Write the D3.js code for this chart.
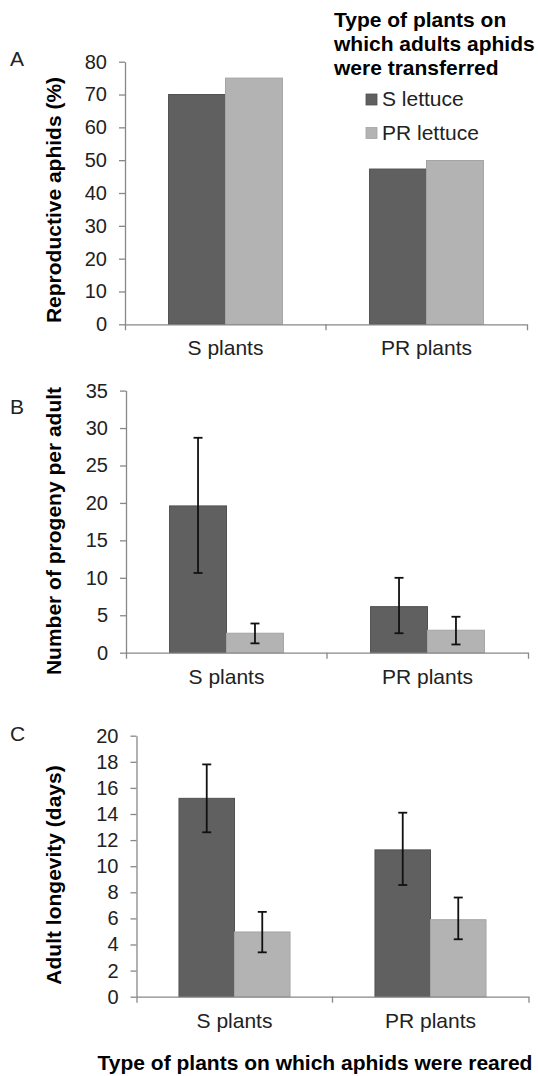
<!DOCTYPE html>
<html>
<head>
<meta charset="utf-8">
<script src="https://cdn.jsdelivr.net/npm/d3@7"></script>
<style>
  html, body { margin: 0; padding: 0; background: #fff; }
  svg { display: block; font-family: "Liberation Sans", Arial, sans-serif; }
</style>
</head>
<body>
<svg id="chart" width="538" height="1076"></svg>
<script>
// ---- data ----
const categories = ["S plants", "PR plants"];
const series = ["S lettuce", "PR lettuce"];

// Panel A: reproductive aphids (%)
const reproS = [70, 47.3];
const reproPR = [75, 49.9];
const reproTicks = [0, 10, 20, 30, 40, 50, 60, 70, 80];

// Panel B: number of progeny per adult
const progenyS = [19.6, 6.15];
const progenyPR = [2.6, 3.0];
const progenyLowS = [10.65, 2.6];
const progenyHighS = [28.7, 10.0];
const progenyLowPR = [1.25, 1.1];
const progenyHighPR = [3.9, 4.8];
const progenyTicks = [0, 5, 10, 15, 20, 25, 30, 35];

// Panel C: adult longevity (days)
const longS = [15.2, 11.25];
const longPR = [4.96, 5.9];
const longLowS = [12.6, 8.56];
const longHighS = [17.8, 14.1];
const longLowPR = [3.4, 4.4];
const longHighPR = [6.5, 7.6];
const longTicks = [0, 2, 4, 6, 8, 10, 12, 14, 16, 18, 20];

const colors = ["#606060", "#b3b3b3"];
const strokes = ["#505050", "#a4a4a4"];
const axisColor = "#888888";
const textColor = "#222222";

const svg = d3.select("#chart");

function panel(opts) {
  const g = svg.append("g");
  const x0 = d3.scaleBand().domain(categories).range([opts.x0, opts.x1]).padding(0);
  const x1 = d3.scaleBand().domain(series).range([0, x0.bandwidth()]).paddingOuter(0.765).paddingInner(0);
  const y = d3.scaleLinear().domain([0, opts.max]).range([opts.yb, opts.yt]);

  // y axis
  const ya = g.append("g").attr("transform", `translate(${opts.x0},0)`)
    .call(d3.axisLeft(y).tickValues(opts.ticks).tickSize(6).tickSizeOuter(0).tickPadding(12));
  ya.select(".domain").attr("stroke", axisColor).attr("stroke-width", 1.3);
  ya.selectAll(".tick line").attr("stroke", axisColor).attr("stroke-width", 1.3);
  ya.selectAll(".tick text").attr("fill", textColor).style("font-size", "20px")
    .style("font-family", '"Liberation Sans", Arial, sans-serif');

  // bars
  const rows = categories.map((c, i) => ({
    cat: c,
    vals: opts.vals.map((arr, s) => ({
      s: series[s], si: s, v: arr[i],
      lo: opts.lo ? opts.lo[s][i] : null,
      hi: opts.hi ? opts.hi[s][i] : null
    }))
  }));
  const grp = g.selectAll("g.cat").data(rows).join("g").attr("class", "cat")
    .attr("transform", d => `translate(${x0(d.cat)},0)`);
  grp.selectAll("rect").data(d => d.vals).join("rect")
    .attr("x", d => x1(d.s))
    .attr("width", x1.bandwidth())
    .attr("y", d => y(d.v))
    .attr("height", d => y(0) - y(d.v))
    .attr("fill", d => colors[d.si])
    .attr("stroke", d => strokes[d.si])
    .attr("stroke-width", 1);

  // error bars
  if (opts.lo) {
    const eb = grp.selectAll("g.err").data(d => d.vals).join("g").attr("class", "err")
      .attr("transform", d => `translate(${x1(d.s) + x1.bandwidth() / 2},0)`);
    eb.append("line").attr("x1", 0).attr("x2", 0)
      .attr("y1", d => y(d.lo)).attr("y2", d => y(d.hi))
      .attr("stroke", "#111").attr("stroke-width", 1.8);
    [d => y(d.lo), d => y(d.hi)].forEach(fy => {
      eb.append("line").attr("x1", -4.5).attr("x2", 4.5)
        .attr("y1", fy).attr("y2", fy)
        .attr("stroke", "#111").attr("stroke-width", 1.8);
    });
  }

  // x axis
  const xa = g.append("g").attr("transform", `translate(0,${opts.yb})`)
    .call(d3.axisBottom(x0).tickSize(0).tickSizeOuter(6).tickPadding(16));
  xa.select(".domain").attr("stroke", axisColor).attr("stroke-width", 1.3);
  xa.selectAll(".tick text").attr("fill", textColor).style("font-size", "21px")
    .style("font-family", '"Liberation Sans", Arial, sans-serif');
  // middle boundary tick
  xa.append("line")
    .attr("x1", x0(categories[1])).attr("x2", x0(categories[1]))
    .attr("y1", 0).attr("y2", 6)
    .attr("stroke", axisColor).attr("stroke-width", 1.3);

  // y-axis title
  g.append("text")
    .attr("transform", `translate(61,${opts.labelY}) rotate(-90)`)
    .attr("text-anchor", "middle")
    .attr("fill", "#000")
    .style("font-size", "21px").style("font-weight", "bold")
    .text(opts.label);

  // panel letter
  g.append("text").attr("x", 10).attr("y", opts.letterY)
    .attr("fill", textColor).style("font-size", "21px").text(opts.letter);
}

panel({
  x0: 125, x1: 527, yb: 324.3, yt: 61.7, max: 80, ticks: reproTicks,
  vals: [reproS, reproPR], label: "Reproductive aphids (%)", labelY: 200,
  letter: "A", letterY: 66
});
panel({
  x0: 126, x1: 528, yb: 652.7, yt: 390.6, max: 35, ticks: progenyTicks,
  vals: [progenyS, progenyPR],
  lo: [progenyLowS, progenyLowPR], hi: [progenyHighS, progenyHighPR],
  label: "Number of progeny per adult", labelY: 531,
  letter: "B", letterY: 414
});
panel({
  x0: 136.5, x1: 528.5, yb: 996.7, yt: 735.7, max: 20, ticks: longTicks,
  vals: [longS, longPR],
  lo: [longLowS, longLowPR], hi: [longHighS, longHighPR],
  label: "Adult longevity (days)", labelY: 875,
  letter: "C", letterY: 741
});

// legend
const legendTitle = ["Type of plants on", "which adults aphids", "were transferred"];
const lg = svg.append("g");
lg.selectAll("text.lt").data(legendTitle).join("text").attr("class", "lt")
  .attr("x", 334).attr("y", (d, i) => 27 + i * 24)
  .attr("fill", "#000").style("font-size", "21px").style("font-weight", "bold")
  .text(d => d);
const items = lg.selectAll("g.li").data(series).join("g").attr("class", "li")
  .attr("transform", (d, i) => `translate(366,${94 + i * 33.5})`);
items.append("rect").attr("width", 11).attr("height", 11)
  .attr("fill", (d, i) => colors[i]).attr("stroke", (d, i) => strokes[i]).attr("stroke-width", 0.8);
items.append("text").attr("x", 16).attr("y", 12).attr("fill", textColor)
  .style("font-size", "21px").text(d => d);

// bottom title
svg.append("text").attr("x", 315).attr("y", 1070).attr("text-anchor", "middle")
  .attr("fill", "#000").style("font-size", "21px").style("font-weight", "bold")
  .text("Type of plants on which aphids were reared");
</script>
</body>
</html>
